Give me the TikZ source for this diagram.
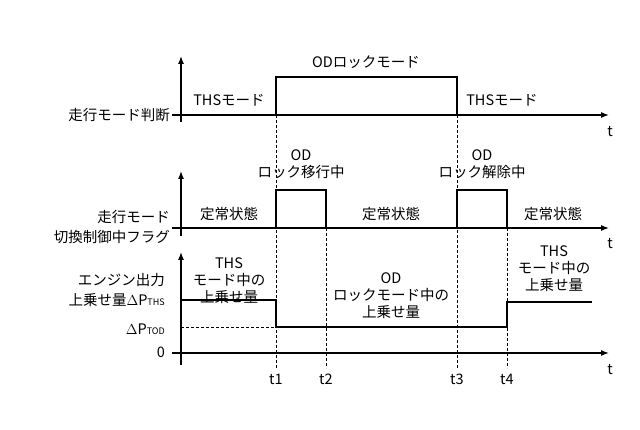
\documentclass[tikz,border=0pt]{standalone}
\usepackage{fontspec}
\setmainfont{Noto Sans CJK JP}
\usetikzlibrary{arrows.meta}
\begin{document}
\begin{tikzpicture}[x=1pt,y=-1pt,
  ax/.style={line width=1.2pt,-{Latex[length=8pt,width=6pt]}},
  sig/.style={line width=2.2pt},
  dsh/.style={densely dashed,line width=0.6pt},
  lb/.style={font=\fontsize{14.5}{17}\selectfont,inner sep=1pt,align=center},
  ll/.style={font=\fontsize{14.5}{20}\selectfont,inner sep=1pt,align=right,anchor=east}]
\useasboundingbox (0,0) rectangle (640,430);
% dashed guides
\draw[dsh] (276,115) -- (276,368);
\draw[dsh] (457,115) -- (457,368);
\draw[dsh] (326,228) -- (326,368);
\draw[dsh] (507,228) -- (507,368);
\draw[dsh] (181,327) -- (276,327);
% panel 1
\draw[ax] (181,122) -- (181,56);
\draw[ax] (172,115) -- (609,115);
\draw[sig] (181,115) -- (276,115) -- (276,77) -- (457,77) -- (457,115) -- (600,115);
\node[lb] at (229,100) {THSモード};
\node[lb] at (366,62) {ODロックモード};
\node[lb] at (502,100) {THSモード};
\node[lb] at (610,132) {t};
\node[ll] at (171,115) {走行モード判断};
% panel 2
\draw[ax] (181,236) -- (181,171);
\draw[ax] (172,228) -- (609,228);
\draw[sig] (181,228) -- (276,228) -- (276,190) -- (326,190) -- (326,228) -- (457,228) -- (457,190) -- (507,190) -- (507,228) -- (600,228);
\node[lb] at (229,214) {定常状態};
\node[lb] at (391,214) {定常状態};
\node[lb] at (553,214) {定常状態};
\node[lb] at (301,164) {OD\\ロック移行中};
\node[lb] at (482,164) {OD\\ロック解除中};
\node[lb] at (610,244) {t};
\node[ll] at (171,227) {走行モード\\切換制御中フラグ};
% panel 3
\draw[ax] (181,365) -- (181,252);
\draw[ax] (172,353) -- (609,353);
\draw[sig] (181,300) -- (276,300) -- (276,327) -- (507,327) -- (507,302) -- (592,302);
\node[lb] at (229,281) {THS\\モード中の\\上乗せ量};
\node[lb] at (391,296) {OD\\ロックモード中の\\上乗せ量};
\node[lb] at (554,269) {THS\\モード中の\\上乗せ量};
\node[ll] at (166,290) {エンジン出力\\上乗せ量$\Delta$P{\fontsize{9}{10}\selectfont THS}};
\node[ll] at (166,329) {$\Delta$P{\fontsize{9}{10}\selectfont TOD}};
\node[ll] at (166,352) {0};
\node[lb] at (276,379) {t1};
\node[lb] at (326,379) {t2};
\node[lb] at (457,379) {t3};
\node[lb] at (507,379) {t4};
\node[lb] at (610,370) {t};
\end{tikzpicture}
\end{document}
